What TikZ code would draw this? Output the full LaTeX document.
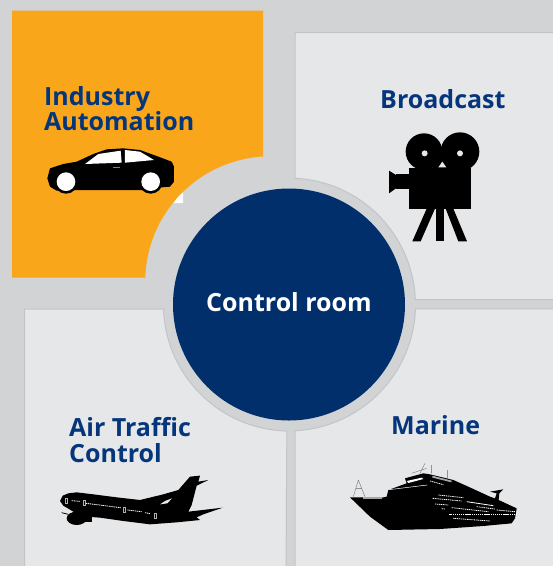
\documentclass[tikz,border=0pt]{standalone}
\usepackage{fontspec}
\setmainfont{Open Sans}
\definecolor{bggray}{HTML}{D1D3D5}
\definecolor{panelfill}{HTML}{E6E7E9}
\definecolor{paneledge}{HTML}{C2C4C7}
\definecolor{navyblue}{HTML}{002F6C}
\definecolor{labelblue}{HTML}{05357A}
\definecolor{amber}{HTML}{FAA61A}
\tikzset{
  panelbox/.style={fill=panelfill,draw=paneledge,line width=1pt},
  labeltext/.style={inner sep=0pt,anchor=base west,text=labelblue,font=\bfseries\fontsize{25}{25.5}\selectfont,align=left},
  sil/.style={fill=black,draw=none},
  hole/.style={fill=panelfill,draw=none},
  pane/.style={fill=white,draw=none},
  dots/.style={draw=white,line width=0.8pt,dash pattern=on 1.2pt off 0.7pt},
  thinblack/.style={draw=black!60,line width=0.35pt},
  doorline/.style={draw=white!70!black,line width=0.3pt},
}
\begin{document}
\begin{tikzpicture}[x=1pt,y=-1pt]
\useasboundingbox (0,0) rectangle (553,566);
\clip (0,0) rectangle (553,566);
\fill[bggray] (0,0) rectangle (553,566);
% orange panel
\fill[amber] (12,10.5) -- (263,10.5) -- (263,156.5)
  arc[start angle=93.4,end angle=178.2,radius=125.2pt] -- (145.5,277.5) -- (12,277.5) -- cycle;
\fill[white] (183,192.5) -- (183,203) -- (173.5,203) to[bend left=8] cycle;
% grey panels
\draw[panelbox] (295,178) -- (295,32.7) -- (570,32.7) -- (570,299.5) -- (415.3,299.5)
  arc[start angle=2.3,end angle=87.3,radius=126.5pt] -- cycle;
\draw[panelbox] (24.5,309) -- (163.5,309)
  arc[start angle=182,end angle=268.6,radius=126.5pt] -- (286,580) -- (24.5,580) -- cycle;
\draw[panelbox] (295,430.7)
  arc[start angle=272.7,end angle=358,radius=126.5pt] -- (570,309) -- (570,580) -- (295,580) -- cycle;
% centre
\node[circle,fill=navyblue,draw=none,minimum size=232pt,inner sep=0pt] (hub) at (289,304.5) {};
\node[inner sep=0pt,anchor=base,text=white,font=\bfseries\fontsize{25}{26}\selectfont] (hublabel) at (289,311.7) {Control room};
% labels
\node[labeltext] (industry) at (44,130.5) {Industry\\Automation};
\node[labeltext] (broadcast) at (380,108) {Broadcast};
\node[labeltext] (airtraffic) at (69,462) {Air Traffic\\Control};
\node[labeltext] (marine) at (391,434) {Marine};
% car
\begin{scope}[shift={(30,140)},scale=1/3]
\fill[sil] (52,115) -- (60,85) -- (100,72) -- (140,65) -- (190,42) -- (230,28) -- (280,25) -- (330,30) -- (380,48) -- (425,65) -- (432,80) -- (432,125) -- (420,140) -- (395,142) -- (340,150) -- (150,150) -- (80,152) -- (60,140) -- cycle;
\fill[sil] (108,125) circle[radius=36];
\fill[sil] (362,125) circle[radius=36];
\fill[pane] (108,125) circle[radius=28];
\fill[pane] (362,125) circle[radius=28];
\fill[pane] (165,72) -- (205,42) -- (272,32) -- (275,68) -- cycle;
\fill[pane] (285,30) -- (330,35) -- (372,60) -- (285,68) -- cycle;
\fill[gray] (250,80) rectangle (270,85);
\end{scope}
% camera
\begin{scope}[shift={(280,20)},scale=1/3]
\fill[sil] (432,395) circle[radius=55];
\fill[sil] (540,395) circle[radius=58];
\fill[sil] (386,445) rectangle (572,568);
\fill[sil] (460,400) rectangle (510,450);
\fill[sil] (348,463) rectangle (388,508);
\fill[sil] (327,452) -- (348,465) -- (348,505) -- (327,520) -- cycle;
\fill[sil] (468,566) rectangle (493,664);
\fill[sil] (440,566) -- (465,566) -- (422,664) -- (397,664) -- cycle;
\fill[sil] (497,566) -- (520,566) -- (561,664) -- (535,664) -- cycle;
\fill[hole] (434,400) circle[radius=9];
\fill[hole] (540,400) circle[radius=9];
\fill[hole] (487,425) -- (475,442) -- (499,442) -- cycle;
\end{scope}
% plane
\begin{scope}[shift={(50,465)},scale=1/3]
\fill[sil] (30,108) -- (38,92) -- (55,85) -- (80,82) -- (130,88) -- (200,97) -- (270,105) -- (340,88) -- (385,75) -- (420,35) -- (450,32) -- (445,50) -- (475,45) -- (440,62) -- (425,120) -- (415,140) -- (518,128) -- (460,148) -- (440,157) -- (450,165) -- (380,172) -- (300,178) -- (220,168) -- (150,158) -- (110,155) -- (70,140) -- (40,122) -- cycle;
\fill[sil] (80,160) ellipse[x radius=30,y radius=20];
\fill[sil] (102,170) rectangle (125,150);
\draw[draw=black,line width=0.8pt] (35,143) -- (55,148);
\fill[hole] (330,118) -- (345,108) -- (366,100) -- (352,115) -- cycle;
\draw[dots] (65,107) -- (90,109);
\draw[dots] (108,115) -- (212,128);
\draw[dots] (232,135) -- (275,140);
\draw[dots] (285,143) -- (301,146);
\draw[doorline] (46,98) rectangle (52,113);
\draw[doorline] (98,106) rectangle (104,121);
\draw[doorline] (219,126) rectangle (225,141);
\draw[doorline] (313,143) rectangle (319,158);
\end{scope}
% ship
\begin{scope}[shift={(340,455)},scale=1/3]
\fill[sil] (30,127) -- (125,128) -- (140,125) -- (145,105) -- (200,85) -- (195,70) -- (250,55) -- (270,58) -- (340,75) -- (385,95) -- (450,125) -- (465,130) -- (470,115) -- (450,110) -- (490,103) -- (478,115) -- (476,135) -- (530,160) -- (525,190) -- (515,205) -- (430,213) -- (300,222) -- (145,225) -- (90,185) -- cycle;
\draw[thinblack] (55,75) -- (40,125) (55,75) -- (75,125) (48,100) -- (65,100);
\draw[thinblack] (255,25) -- (240,55) (275,30) -- (275,55) (322,45) -- (322,72) (215,55) -- (260,40);
\fill[pane] (200,78) -- (245,68) -- (250,72) -- (205,84) -- cycle;
\fill[gray!70] (277,62) -- (335,77) -- (335,82) -- (277,68) -- cycle;
\fill[gray!70] (70,127) rectangle (125,131);
\draw[draw=white,line width=0.5pt] (147,104) -- (262,90);
\draw[dots] (270,78) -- (310,89);
\draw[dots] (295,120) -- (370,128);
\draw[dots] (278,130) -- (365,138);
\draw[dots] (285,147) -- (325,150);
\draw[dots] (305,161) -- (316,162);
\draw[dots] (335,158) -- (445,170);
\draw[dots] (328,178) -- (530,178);
\draw[dots] (340,190) -- (450,198);
\draw[draw=white,line width=0.8pt] (380,140) -- (460,152);
\draw[dots] (410,155) -- (465,162);
\draw[dots] (470,165) -- (525,170);
\end{scope}
\end{tikzpicture}
\end{document}
